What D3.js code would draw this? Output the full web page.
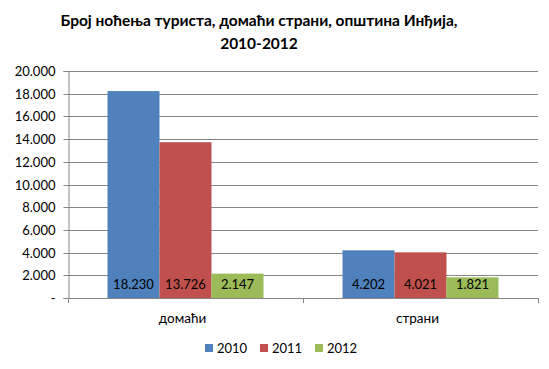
<!DOCTYPE html>
<html><head><meta charset="utf-8">
<script src="https://cdn.jsdelivr.net/npm/d3@7"></script>
<style>body{margin:0;background:#fff}svg{display:block}text{font-family:Lato,"Open Sans",sans-serif;fill:#000}</style>
</head><body>
<script>
const categories = ["домаћи", "страни"];
const seriesNames = ["2010", "2011", "2012"];
const values2010 = [18230, 4202];
const values2011 = [13726, 4021];
const values2012 = [2147, 1821];
const yTicks = [0, 2000, 4000, 6000, 8000, 10000, 12000, 14000, 16000, 18000, 20000];
const colors = ["#4F81BD", "#C0504D", "#9BBB59"];
const titleLines = ["Број ноћења туриста, домаћи страни, општина Инђија,", "2010-2012"];

(function () {
const series = [values2010, values2011, values2012];
const W = 549, H = 369;
const svg = d3.select("body").append("svg").attr("width", W).attr("height", H);
const pLeft = 68, pRight = 538, pTop = 71, pBottom = 298;

const y = d3.scaleLinear().domain([0, 20000]).range([pBottom, pTop]);
const x0 = d3.scaleBand().domain(categories).range([pLeft, pRight]).paddingInner(0).paddingOuter(0);
const groupW = 156;
const x1 = d3.scaleBand().domain(seriesNames).range([0, groupW]);

const fmt = v => v === 0 ? "-" : d3.format(",")(v).replace(/,/g, ".");

// gridlines
svg.append("g").selectAll("line").data(yTicks).join("line")
  .attr("x1", pLeft).attr("x2", pRight)
  .attr("y1", d => Math.round(y(d)) + 0.5).attr("y2", d => Math.round(y(d)) + 0.5)
  .attr("stroke", "#868686").attr("stroke-width", 1);

// y axis
const yAxis = d3.axisLeft(y).tickValues(yTicks).tickFormat(fmt).tickSize(5).tickPadding(8);
const ga = svg.append("g").attr("transform", `translate(${pLeft + 0.5},0)`).call(yAxis);
ga.selectAll("path,line").attr("stroke", "#868686");
ga.selectAll(".tick").attr("transform", d => `translate(0,${Math.round(y(d)) + 0.5})`);
ga.selectAll("text").style("font-size", "13px").style("font-family", "Lato,'Open Sans',sans-serif").attr("fill", "#000");

// bars
const groups = svg.append("g").selectAll("g").data(categories).join("g")
  .attr("transform", c => `translate(${x0(c) + (x0.bandwidth() - groupW) / 2},0)`);
groups.each(function(c, ci) {
  const g = d3.select(this);
  seriesNames.forEach((s, si) => {
    const v = series[si][ci];
    g.append("rect").attr("x", x1(s)).attr("width", x1.bandwidth())
      .attr("y", y(v)).attr("height", y(0) - y(v)).attr("fill", colors[si]);
    g.append("text").attr("x", x1(s) + x1.bandwidth() / 2).attr("y", pBottom - 9)
      .attr("text-anchor", "middle").style("font-size", "13px").text(fmt(v));
  });
});

// x axis
const xa = svg.append("g");
xa.append("line").attr("x1", pLeft).attr("x2", pRight).attr("y1", pBottom + 0.5).attr("y2", pBottom + 0.5).attr("stroke", "#868686");
const xt = [pLeft, pLeft + x0.bandwidth(), pRight];
xa.selectAll("line.t").data(xt).join("line").attr("class", "t")
  .attr("x1", d => d + 0.5).attr("x2", d => d + 0.5).attr("y1", pBottom).attr("y2", pBottom + 5).attr("stroke", "#868686");
xa.selectAll("text").data(categories).join("text")
  .attr("x", c => x0(c) + x0.bandwidth() / 2 - 3).attr("y", 323)
  .attr("text-anchor", "middle").style("font-size", "13.5px").text(c => c);

// title
svg.append("g").selectAll("text").data(titleLines).join("text")
  .attr("x", 259).attr("y", (d, i) => 26 + i * 23).attr("text-anchor", "middle")
  .style("font-size", "15.5px").style("font-weight", "bold").text(d => d);

// legend
const legX = [205, 260, 315];
const leg = svg.append("g").selectAll("g").data(seriesNames).join("g")
  .attr("transform", (d, i) => `translate(${legX[i]},344)`);
leg.append("rect").attr("width", 8).attr("height", 8).attr("fill", (d, i) => colors[i]);
leg.append("text").attr("x", 12).attr("y", 9).style("font-size", "13px").text(d => d);
})();
</script>
</body></html>
